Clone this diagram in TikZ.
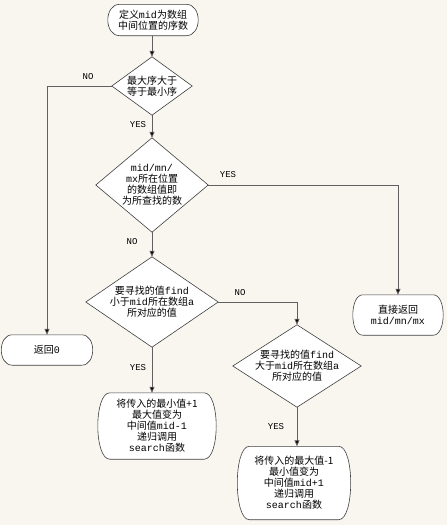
\documentclass[tikz,border=0pt]{standalone}
\usepackage{fontspec}
\setmainfont{Noto Sans CJK SC}
\setmonofont{Liberation Mono}
\usetikzlibrary{arrows.meta}
\newcommand\mo[1]{\texttt{#1}}
\newcommand\termshape[2]{%
  \path[dshape] ([xshift=#2]#1.north west) -- ([xshift=-#2]#1.north east)
    .. controls ([xshift=#2/3]#1.north east) and ([xshift=#2/3]#1.south east) .. ([xshift=-#2]#1.south east)
    -- ([xshift=#2]#1.south west)
    .. controls ([xshift=-#2/3]#1.south west) and ([xshift=-#2/3]#1.north west) .. cycle;}
\definecolor{bg}{RGB}{249,246,240}
\definecolor{ln}{RGB}{96,96,96}
\tikzset{
  txt/.style={font=\fontsize{10}{11}\selectfont, align=center, inner sep=0pt},
  dbox/.style={txt, rectangle, draw=none},
  dshape/.style={draw=black!75, fill=white, line width=0.6pt},
  conn/.style={draw=ln, line width=0.8pt, -{Triangle[length=6pt,width=5pt,fill=black]}},
  lab/.style={font=\ttfamily\fontsize{9}{10}\selectfont, inner sep=0pt}
}
\begin{document}
\begin{tikzpicture}[x=1pt,y=-1pt]
\fill[bg] (0,0) rectangle (447,525);
\useasboundingbox (0,0) rectangle (447,525);
% diamonds
\node[dbox, minimum width=80, minimum height=58] (d1) at (152,86) {};
\node[dbox, minimum width=112, minimum height=94] (d2) at (152,185) {};
\node[dbox, minimum width=132, minimum height=90] (d3) at (152,302) {};
\node[dbox, minimum width=128, minimum height=82] (d4) at (297,366) {};
\foreach \d in {d1,d2,d3,d4}
  \path[dshape] (\d.north) -- (\d.east) -- (\d.south) -- (\d.west) -- cycle;
\node[txt] at (d1) {最大序大于\\等于最小序};
\node[txt] at (d2) {\mo{mid/mn/}\\\mo{mx}所在位置\\的数组值即\\为所查找的数};
\node[txt] at (d3) {要寻找的值\mo{find}\\小于\mo{mid}所在数组\mo{a}\\所对应的值};
\node[txt] at (d4) {要寻找的值\mo{find}\\大于\mo{mid}所在数组\mo{a}\\所对应的值};
% terminators
\node[dbox, minimum width=90, minimum height=31] (start) at (153,20) {};
\node[dbox, minimum width=91, minimum height=30] (ret0) at (47,350) {};
\node[dbox, minimum width=90, minimum height=40] (retd) at (398,315) {};
\node[dbox, minimum width=118, minimum height=66] (r1) at (157,426) {};
\node[dbox, minimum width=113, minimum height=73] (r2) at (294,483) {};
\termshape{start}{12pt}
\termshape{ret0}{11pt}
\termshape{retd}{10pt}
\termshape{r1}{12pt}
\termshape{r2}{12pt}
\node[txt] at (start) {定义\mo{mid}为数组\\中间位置的序数};
\node[txt] at (ret0) {返回\mo{0}};
\node[txt] at (retd) {直接返回\\\mo{mid/mn/mx}};
\node[txt] at (r1) {将传入的最小值+1\\最大值变为\\中间值\mo{mid-1}\\递归调用\\\mo{search}函数};
\node[txt] at (r2) {将传入的最大值-1\\最小值变为\\中间值\mo{mid+1}\\递归调用\\\mo{search}函数};
% connectors
\draw[conn] (start.south -| d1.north) -- (d1.north);
\draw[conn] (d1.west) -| (ret0.north);
\draw[conn] (d1.south) -- (d2.north);
\draw[conn] (d2.east) -| (retd.north);
\draw[conn] (d2.south) -- (d3.north);
\draw[conn] (d3.east) -| (d4.north);
\draw[conn] (d3.south) -- (d3.south |- r1.north);
\draw[conn] (d4.south) -- (d4.south |- r2.north);
% labels
\node[lab] (l1) at (88,77) {NO};
\node[lab] (l2) at (138,125) {YES};
\node[lab] (l3) at (228,175) {YES};
\node[lab] (l4) at (132,242) {NO};
\node[lab] (l5) at (240,293) {NO};
\node[lab] (l6) at (138,368) {YES};
\node[lab] (l7) at (276,427) {YES};
\end{tikzpicture}
\end{document}
